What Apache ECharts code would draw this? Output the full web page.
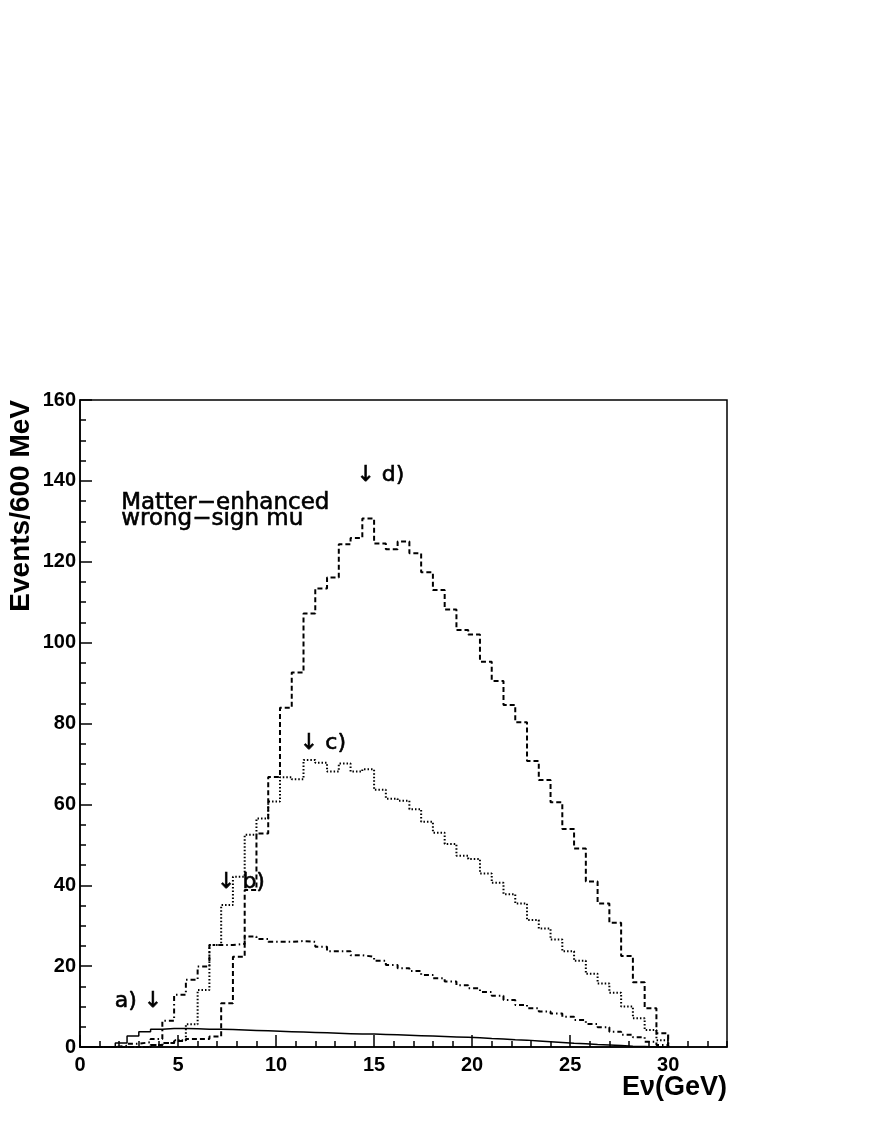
<!DOCTYPE html>
<html>
<head>
<meta charset="utf-8">
<script src="https://cdn.jsdelivr.net/npm/echarts@6/dist/echarts.min.js"></script>
<style>
  html, body { margin: 0; padding: 0; background: #fff; }
  #chart { width: 872px; height: 1128px; }
</style>
</head>
<body>
<div id="chart"></div>
<script>
// bin width is 600 MeV, bins start at 0 GeV
const binWidth = 0.6;

// a) solid
const aBins = [0, 0, 0, 1.0, 2.7, 3.8, 4.4, 4.6, 4.6, 4.5,
  4.4, 4.4, 4.3, 4.2, 4.1, 4.0, 3.9, 3.8, 3.7, 3.6,
  3.5, 3.4, 3.3, 3.2, 3.2, 3.1, 3.0, 2.9, 2.8, 2.7,
  2.6, 2.5, 2.4, 2.3, 2.1, 2.0, 1.8, 1.7, 1.5, 1.3,
  1.1, 0.9, 0.8, 0.6, 0.5, 0.35, 0.2, 0.1, 0, 0];
// b) dash-dot
const bBins = [0, 0, 0, 0.3, 0.8, 1.2, 2.0, 6.5, 12.9, 16.6,
  19.9, 25.2, 25.2, 25.5, 27.3, 26.7, 26.0, 26.0, 26.2, 26.0,
  24.8, 23.7, 23.7, 22.7, 22.3, 21.3, 20.3, 19.5, 18.8, 17.8,
  17.0, 16.2, 15.3, 14.5, 13.6, 12.7, 11.6, 10.4, 9.6, 8.8,
  8.3, 7.5, 6.7, 5.7, 4.9, 3.8, 3.0, 2.4, 1.3, 0.5];
// c) dotted
const cBins = [0, 0, 0, 0, 0, 0, 0.5, 1.0, 1.7, 5.6,
  14.1, 25.2, 35.1, 42.1, 52.5, 56.5, 60.7, 66.7, 66.2, 71.0,
  70.3, 68.1, 70.1, 68.1, 68.7, 63.6, 61.4, 60.9, 58.8, 55.7,
  53.0, 50.2, 47.3, 46.5, 42.9, 40.6, 37.8, 35.5, 31.4, 29.3,
  26.6, 23.7, 21.3, 18.1, 15.7, 13.4, 10.0, 7.1, 4.2, 1.7];
// d) dashed
const dBins = [0, 0, 0, 0, 0, 0, 0.5, 1.0, 1.5, 2.0,
  2.0, 2.6, 10.8, 22.3, 38.8, 52.8, 66.8, 83.9, 92.6, 107.2,
  113.4, 116.1, 124.3, 125.9, 130.7, 124.5, 123.1, 125.0, 122.1, 117.4,
  113.0, 108.2, 103.1, 102.0, 95.3, 90.5, 84.6, 80.3, 70.7, 66.0,
  60.5, 53.9, 49.1, 40.9, 35.5, 30.7, 22.5, 16.0, 9.6, 3.4];

const xLabels = [0, 5, 10, 15, 20, 25, 30];
const yLabels = [0, 20, 40, 60, 80, 100, 120, 140, 160];

const markTexts = ['a) \u2193', '\u2193 b)', '\u2193 c)', '\u2193 d)'];
const markE = [2.98, 8.21, 12.39, 15.32];
const markY = [11.4, 40.8, 75.2, 141.4];

function histData(bins) {
  const pts = bins.map((v, i) => [+(i * binWidth).toFixed(2), v]);
  pts.push([+(bins.length * binWidth).toFixed(2), 0]);
  return pts;
}

function histSeries(name, bins, type, width) {
  return {
    name: name,
    type: 'line',
    step: 'end',
    xAxisIndex: 0,
    data: histData(bins),
    showSymbol: false,
    symbol: 'none',
    lineStyle: { color: '#000', width: width, type: type },
    silent: true,
    z: 3
  };
}

const chart = echarts.init(document.getElementById('chart'), null, { renderer: 'canvas' });

const textStyle = {
  color: '#000', opacity: 1, fontFamily: 'DejaVu Sans',
  textBorderColor: '#000', textBorderWidth: 0.6
};

const option = {
  animation: false,
  backgroundColor: '#fff',
  grid: {
    left: 80, right: 145, top: 400, bottom: 81,
    show: true, borderColor: '#000', borderWidth: 1.5,
    backgroundColor: 'transparent',
    containLabel: false, outerBoundsMode: 'none'
  },
  xAxis: [{
    type: 'value', min: 0, max: 33, interval: 5,
    position: 'bottom',
    axisLine: { show: true, onZero: false, lineStyle: { color: '#000', width: 1.5 } },
    axisTick: { show: true, inside: true, length: 12, lineStyle: { color: '#000', width: 1.5 } },
    axisLabel: {
      margin: 8, color: '#000', fontSize: 20, fontWeight: 'bold', fontFamily: 'Liberation Sans',
      showMaxLabel: false,
      formatter: v => (xLabels.indexOf(v) >= 0 ? String(v) : '')
    },
    splitLine: { show: false }
  }, {
    type: 'value', min: 0, max: 33, interval: 1,
    position: 'bottom',
    axisLine: { show: false, onZero: false },
    axisTick: { show: true, inside: true, length: 6, lineStyle: { color: '#000', width: 1.5 } },
    axisLabel: { show: false },
    splitLine: { show: false }
  }],
  yAxis: {
    type: 'value', min: 0, max: 160, interval: 20,
    axisLine: { show: true, onZero: false, lineStyle: { color: '#000', width: 1.5 } },
    axisTick: { show: true, inside: true, length: 12, lineStyle: { color: '#000', width: 1.5 } },
    minorTick: { show: true, splitNumber: 4, length: 6, lineStyle: { color: '#000', width: 1.5 } },
    axisLabel: {
      margin: 4, color: '#000', fontSize: 20, fontWeight: 'bold', fontFamily: 'Liberation Sans',
      formatter: v => (yLabels.indexOf(v) >= 0 ? String(v) : '')
    },
    splitLine: { show: false }
  },
  graphic: [{
    type: 'text',
    x: 21, y: 400,
    rotation: Math.PI / 2,
    style: {
      text: 'Events/600 MeV',
      fontSize: 28, fontWeight: 'bold', fontFamily: 'Liberation Sans',
      fill: '#000',
      align: 'right', verticalAlign: 'middle',
      textAlign: 'right', textVerticalAlign: 'middle'
    }
  }, {
    type: 'text',
    x: 727, y: 1088,
    style: {
      text: 'E\u03bd(GeV)',
      fontSize: 27, fontWeight: 'bold', fontFamily: 'Liberation Sans',
      fill: '#000',
      align: 'right', verticalAlign: 'middle',
      textAlign: 'right', textVerticalAlign: 'middle'
    }
  }],
  series: [
    histSeries('a', aBins, 'solid', 1.5),
    histSeries('b', bBins, [5, 3, 1.5, 3], 2),
    histSeries('c', cBins, [1.5, 2], 2),
    histSeries('d', dBins, [5, 3], 2),
    {
      type: 'scatter',
      xAxisIndex: 0,
      symbolSize: 0,
      silent: true,
      data: markTexts.map((t, i) => ({ value: [markE[i], markY[i]], name: t })),
      label: Object.assign({
        show: true, position: 'inside', formatter: p => p.name, fontSize: 22
      }, textStyle),
      z: 5
    },
    {
      type: 'scatter',
      xAxisIndex: 0,
      symbolSize: 0,
      silent: true,
      data: [{ value: [2.1, 136.6], name: 'Matter\u2212enhanced\nwrong\u2212sign mu' }],
      label: Object.assign({
        show: true, position: [0, 0], align: 'left', verticalAlign: 'top',
        formatter: p => p.name, fontSize: 23, lineHeight: 16
      }, textStyle),
      z: 5
    }
  ]
};

chart.setOption(option);
</script>
</body>
</html>
